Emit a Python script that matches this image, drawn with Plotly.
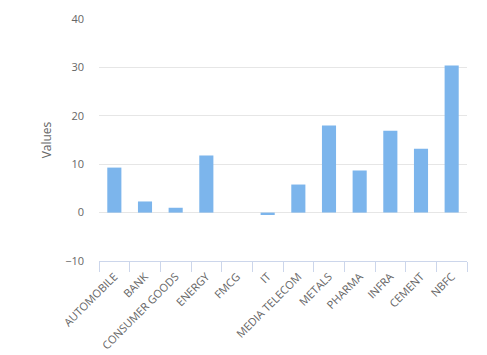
import plotly.graph_objects as go

categories = ["AUTOMOBILE", "BANK", "CONSUMER GOODS", "ENERGY", "FMCG", "IT",
              "MEDIA TELECOM", "METALS", "PHARMA", "INFRA", "CEMENT", "NBFC"]
values = [9.3, 2.3, 1.0, 11.8, 0.0, -0.5, 5.8, 18.0, 8.7, 16.9, 13.2, 30.4]
y_ticks = [-10, 0, 10, 20, 30, 40]

fig = go.Figure(go.Bar(x=categories, y=values, marker=dict(color="#7cb5ec", line=dict(width=0))))

fig.update_layout(
    width=487, height=355,
    margin=dict(l=99, r=20, t=19, b=94, autoexpand=False),
    paper_bgcolor="white", plot_bgcolor="white",
    bargap=0.54,
    showlegend=False,
    font=dict(family="Open Sans, Lato, sans-serif", color="#666666", size=11),
)
fig.update_xaxes(
    type="category",
    automargin=False,
    tickangle=-45,
    tickson="boundaries",
    ticks="outside", ticklen=10, tickcolor="#ccd6eb", tickwidth=1,
    ticklabelstandoff=4,
    showline=True, linecolor="#ccd6eb", linewidth=1,
    showgrid=False,
    tickfont=dict(size=11, color="#666666"),
)
fig.update_yaxes(
    automargin=False,
    range=[-10, 40],
    tickvals=y_ticks,
    showgrid=True, gridcolor="#e6e6e6", gridwidth=1,
    zeroline=False,
    showline=False,
    ticks="", ticklabelstandoff=14,
    tickfont=dict(size=11, color="#666666"),
    title=dict(text="Values", font=dict(size=12, color="#666666"), standoff=10),
)

fig.write_html(
    "out.html",
    config={"displayModeBar": False},
    post_script="document.body.style.margin='0';document.body.style.overflow='hidden';",
)
